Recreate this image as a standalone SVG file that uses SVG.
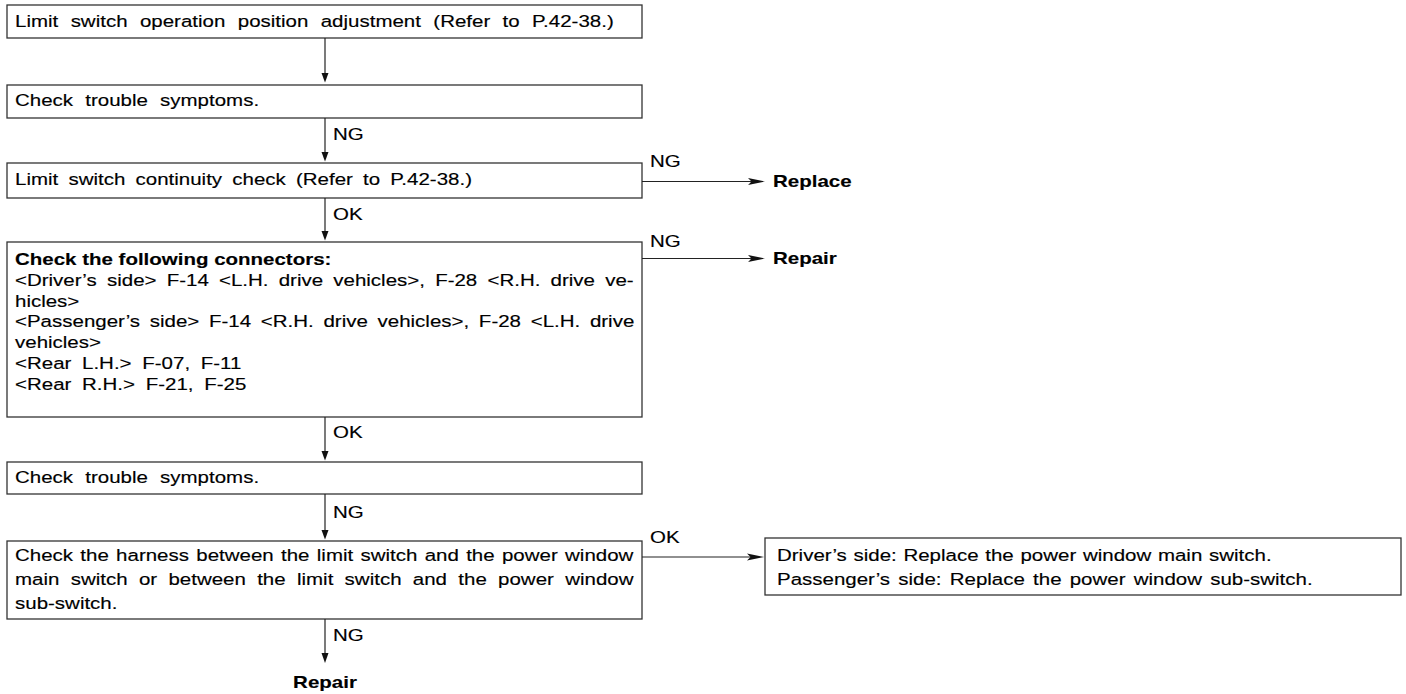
<svg xmlns="http://www.w3.org/2000/svg" width="1406" height="694" viewBox="0 0 1406 694">
<style>
.box{fill:#fff;stroke:#333;stroke-width:1.3}
.t{font-family:"Liberation Sans",Arial,sans-serif;font-size:16.5px;fill:#000;stroke:#000;stroke-width:0.15}
.b{font-weight:bold}
.ln{stroke:#222;stroke-width:1.2;fill:none}
.ah{fill:#111}
</style>
<g id="n1"><rect class="box" x="7" y="5" width="635" height="33"/>
<g transform="scale(1.2424 1)"><text class="t" x="12.07" y="27" word-spacing="5.39">Limit switch operation position adjustment (Refer to P.42-38.)</text></g></g>
<g id="n2"><rect class="box" x="7" y="85" width="635" height="33"/>
<g transform="scale(1.2424 1)"><text class="t" x="12.07" y="106" word-spacing="5.23">Check trouble symptoms.</text></g></g>
<g id="n3"><rect class="box" x="7" y="163" width="635" height="35"/>
<g transform="scale(1.2424 1)"><text class="t" x="12.07" y="185.5" word-spacing="3.62">Limit switch continuity check (Refer to P.42-38.)</text></g></g>
<g id="n4"><rect class="box" x="7" y="242" width="635" height="175"/>
<g transform="scale(1.2424 1)">
<text class="t b" x="12.07" y="265">Check the following connectors:</text>
<text class="t" x="12.07" y="285.8" word-spacing="3.62">&lt;Driver’s side&gt; F-14 &lt;L.H. drive vehicles&gt;, F-28 &lt;R.H. drive ve-</text>
<text class="t" x="12.07" y="306.6">hicles&gt;</text>
<text class="t" x="12.07" y="327.4" word-spacing="3.22">&lt;Passenger’s side&gt; F-14 &lt;R.H. drive vehicles&gt;, F-28 &lt;L.H. drive</text>
<text class="t" x="12.07" y="348.2">vehicles&gt;</text>
<text class="t" x="12.07" y="369" word-spacing="4.02">&lt;Rear L.H.&gt; F-07, F-11</text>
<text class="t" x="12.07" y="389.8" word-spacing="4.02">&lt;Rear R.H.&gt; F-21, F-25</text>
</g></g>
<g id="n5"><rect class="box" x="7" y="462" width="635" height="32"/>
<g transform="scale(1.2424 1)"><text class="t" x="12.07" y="483.5" word-spacing="5.23">Check trouble symptoms.</text></g></g>
<g id="n6"><rect class="box" x="7" y="541" width="635" height="78"/>
<g transform="scale(1.2424 1)">
<text class="t" x="12.07" y="561.5" word-spacing="1.29">Check the harness between the limit switch and the power window</text>
<text class="t" x="12.07" y="585.5" word-spacing="4.51">main switch or between the limit switch and the power window</text>
<text class="t" x="12.07" y="609">sub-switch.</text>
</g></g>
<g id="n7"><rect class="box" x="765" y="538" width="636" height="57"/>
<g transform="scale(1.2424 1)">
<text class="t" x="625.4" y="561.5" word-spacing="0.8">Driver’s side: Replace the power window main switch.</text>
<text class="t" x="625.4" y="585" word-spacing="2">Passenger’s side: Replace the power window sub-switch.</text>
</g></g>
<g id="t1"><g transform="scale(1.2424 1)"><text class="t b" x="622.2" y="187">Replace</text></g></g>
<g id="t2"><g transform="scale(1.2424 1)"><text class="t b" x="622.2" y="264">Repair</text></g></g>
<g id="t3"><g transform="scale(1.2424 1)"><text class="t b" x="261.59" y="688" text-anchor="middle">Repair</text></g></g>
<g id="connectors">
<line class="ln" x1="325" y1="38" x2="325" y2="75"/>
<path class="ah" d="M321.5,73 L328.5,73 L325,82.5 Z"/>
<line class="ln" x1="325" y1="118" x2="325" y2="154"/>
<path class="ah" d="M321.5,152 L328.5,152 L325,161.5 Z"/>
<line class="ln" x1="325" y1="198" x2="325" y2="233"/>
<path class="ah" d="M321.5,231 L328.5,231 L325,240.5 Z"/>
<line class="ln" x1="325" y1="417" x2="325" y2="453"/>
<path class="ah" d="M321.5,451 L328.5,451 L325,460.5 Z"/>
<line class="ln" x1="325" y1="494" x2="325" y2="532"/>
<path class="ah" d="M321.5,530 L328.5,530 L325,539.5 Z"/>
<line class="ln" x1="325" y1="619" x2="325" y2="655"/>
<path class="ah" d="M321.5,653 L328.5,653 L325,663 Z"/>
<line class="ln" x1="642" y1="181.5" x2="752" y2="181.5"/>
<path class="ah" d="M765,181.5 L748,178 L751.5,181.5 L748,185 Z"/>
<line class="ln" x1="642" y1="258.5" x2="752" y2="258.5"/>
<path class="ah" d="M765,258.5 L748,255 L751.5,258.5 L748,262 Z"/>
<line class="ln" x1="642" y1="557" x2="751" y2="557"/>
<path class="ah" d="M764,557 L747,553.5 L750.5,557 L747,560.5 Z"/>
<g transform="scale(1.2424 1)">
<text class="t" x="268.03" y="140">NG</text>
<text class="t" x="523.18" y="167">NG</text>
<text class="t" x="268.03" y="220">OK</text>
<text class="t" x="523.18" y="247">NG</text>
<text class="t" x="268.03" y="438">OK</text>
<text class="t" x="268.03" y="518">NG</text>
<text class="t" x="523.18" y="543">OK</text>
<text class="t" x="268.03" y="641.5">NG</text>
</g>
</g>
</svg>
